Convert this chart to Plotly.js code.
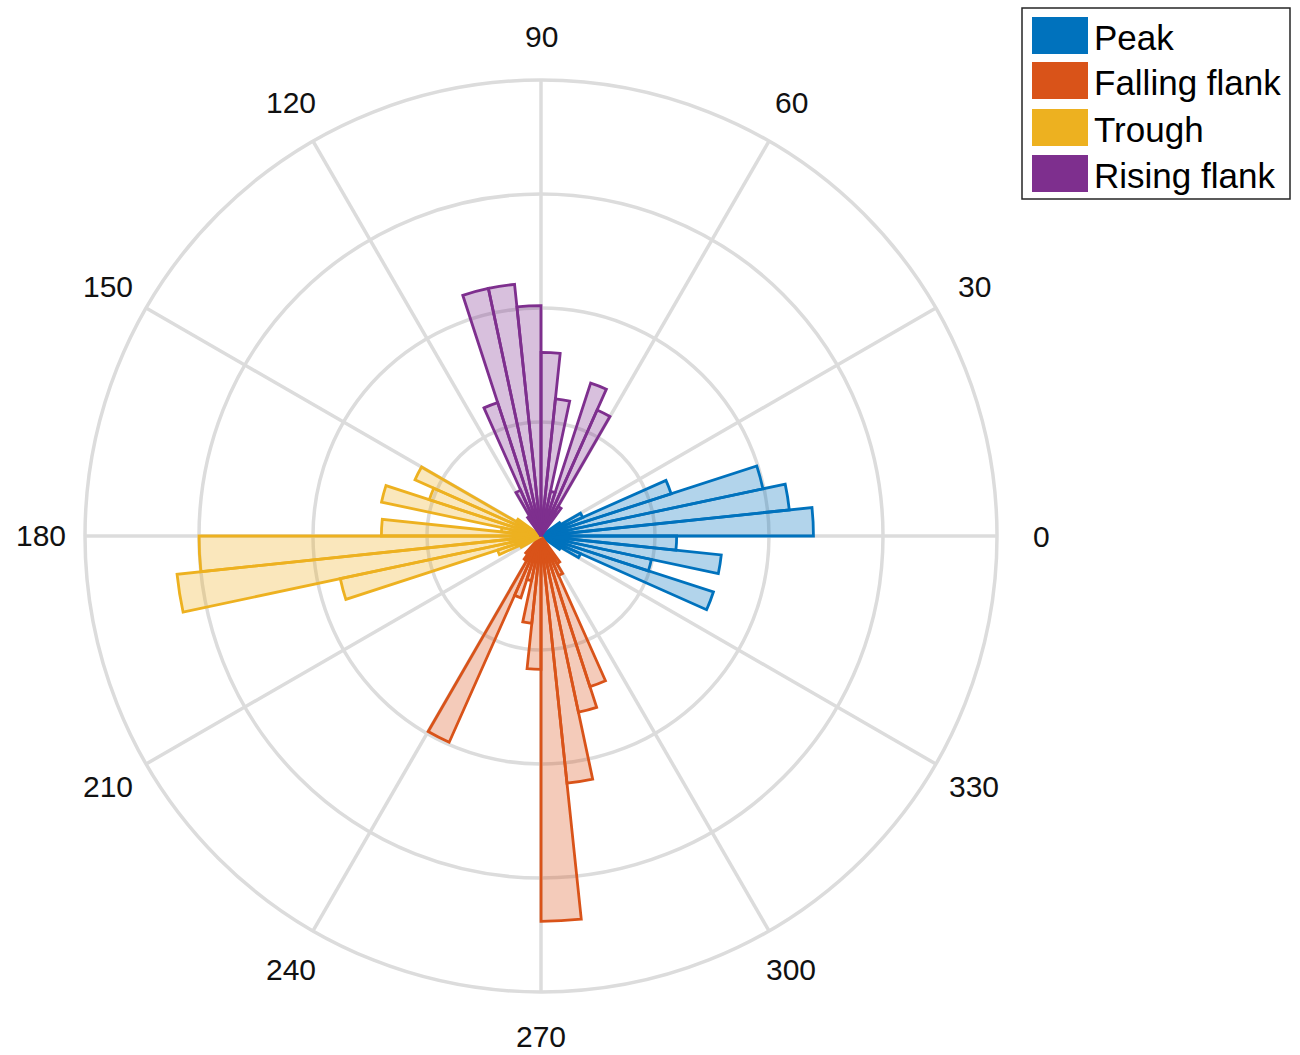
<!DOCTYPE html>
<html>
<head>
<meta charset="utf-8">
<script src="https://cdn.plot.ly/plotly-3.0.1.min.js"></script>
<style>
  html, body { margin: 0; padding: 0; background: #fff; }
  #chart { width: 1300px; height: 1055px; }
</style>
</head>
<body>
<div id="chart"></div>
<script>
// bin width in degrees (polar histogram bins)
var binWidth = 6;

// bin start angles (deg) and heights for each phase
var peakBins = [324, 330, 336, 342, 348, 354, 0, 6, 12, 18, 24, 30];
var peakR    = [0.2, 0.38, 1.59, 0.99, 1.59, 1.19, 2.39, 2.19, 1.99, 1.20, 0.40, 0.2];

var fallingBins = [228, 234, 240, 246, 252, 258, 264, 270, 276, 282, 288, 294, 300];
var fallingR    = [0.2, 0.25, 1.98, 0.57, 0.4, 0.77, 1.17, 3.38, 2.18, 1.58, 1.39, 0.38, 0.28];

var troughBins = [144, 150, 156, 162, 168, 174, 180, 186, 192, 198, 204];
var troughR    = [0.25, 1.21, 1.03, 1.43, 0.35, 1.40, 3.0, 3.21, 1.80, 0.40, 0.2];

var risingBins = [54, 60, 66, 72, 78, 84, 90, 96, 102, 108, 114, 120];
var risingR    = [0.3, 1.21, 1.41, 0.40, 1.21, 1.61, 2.02, 2.22, 2.22, 1.23, 0.44, 0.2];

var seriesNames = ['Peak', 'Falling flank', 'Trough', 'Rising flank'];
var seriesColors = ['#0072BD', '#D95319', '#EDB120', '#7E2F8E'];
var seriesFill = ['rgba(0,114,189,0.3)', 'rgba(217,83,25,0.3)', 'rgba(237,177,32,0.3)', 'rgba(126,47,142,0.3)'];
var seriesBins = [peakBins, fallingBins, troughBins, risingBins];
var seriesR = [peakR, fallingR, troughR, risingR];

var angleTicks = [0, 30, 60, 90, 120, 150, 180, 210, 240, 270, 300, 330];
var ringTicks = [1, 2, 3];

var traces = [];
for (var i = 0; i < seriesNames.length; i++) {
  traces.push({
    type: 'barpolar',
    name: seriesNames[i],
    r: seriesR[i],
    theta: seriesBins[i].map(function (b) { return b + binWidth / 2; }),
    width: seriesBins[i].map(function () { return binWidth; }),
    marker: {
      color: seriesFill[i],
      line: { color: seriesColors[i], width: 2.8 }
    },
    showlegend: false,
    hoverinfo: 'skip'
  });
}

// figure geometry (pixels)
var W = 1300, H = 1055;
var cx = 541, cy = 536, rad = 456, labelRad = 500;

// hand-made legend box, MATLAB style
var shapes = [{
  type: 'rect', xref: 'paper', yref: 'paper',
  x0: 1022 / W, x1: 1290 / W, y0: 1 - 199 / H, y1: 1 - 8 / H,
  line: { color: '#262626', width: 1.5 }, fillcolor: '#fff', layer: 'above'
}];
var annotations = [];
var rowTop = [17, 62, 109, 155];
for (var j = 0; j < seriesNames.length; j++) {
  shapes.push({
    type: 'rect', xref: 'paper', yref: 'paper',
    x0: 1032 / W, x1: 1088 / W,
    y0: 1 - (rowTop[j] + 37) / H, y1: 1 - rowTop[j] / H,
    line: { width: 0 }, fillcolor: seriesColors[j], layer: 'above'
  });
  annotations.push({
    xref: 'paper', yref: 'paper',
    x: 1092 / W, y: 1 - (rowTop[j] + 20) / H,
    xanchor: 'left', yanchor: 'middle',
    text: seriesNames[j], showarrow: false,
    font: { size: 35, color: '#000' }
  });
}

// angle labels sit further out than plotly's own tick labels
angleTicks.forEach(function (a) {
  var t = a * Math.PI / 180;
  annotations.push({
    xref: 'paper', yref: 'paper',
    x: (cx + labelRad * Math.cos(t)) / W,
    y: 1 - (cy - labelRad * Math.sin(t)) / H,
    xanchor: 'center', yanchor: 'middle',
    text: String(a), showarrow: false,
    font: { size: 30, color: '#111' }
  });
});

var layout = {
  width: W, height: H,
  margin: { l: 0, r: 0, t: 0, b: 0 },
  paper_bgcolor: '#fff',
  font: { family: 'Liberation Sans, Arial, sans-serif', color: '#222' },
  showlegend: false,
  polar: {
    domain: {
      x: [(cx - rad) / W, (cx + rad) / W],
      y: [(H - cy - rad) / H, (H - cy + rad) / H]
    },
    bgcolor: '#fff',
    barmode: 'overlay',
    radialaxis: {
      range: [0, 4],
      tickvals: ringTicks,
      showticklabels: false,
      ticks: '',
      showline: false,
      gridcolor: '#DCDCDC',
      gridwidth: 3.5
    },
    angularaxis: {
      rotation: 0,
      direction: 'counterclockwise',
      tickvals: angleTicks,
      showticklabels: false,
      ticks: '',
      showline: true,
      linecolor: '#DCDCDC',
      linewidth: 3.5,
      gridcolor: '#DCDCDC',
      gridwidth: 3.5
    }
  },
  shapes: shapes,
  annotations: annotations
};

Plotly.newPlot('chart', traces, layout, { displayModeBar: false, staticPlot: true });
</script>
</body>
</html>
